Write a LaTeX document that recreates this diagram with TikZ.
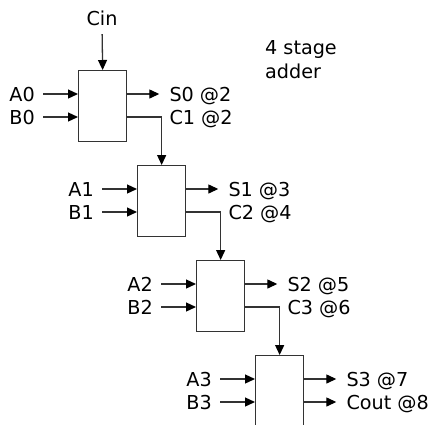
\documentclass[tikz,border=0pt]{standalone}
\usepackage{fontspec}
\setmainfont{DejaVu Sans}
\usetikzlibrary{arrows.meta,calc}

\tikzset{
    stage/.style={draw=black!80, line width=1.3pt, minimum width=48pt, minimum height=71pt, inner sep=0pt},
    wire/.style={draw=black!80, line width=1.3pt},
    sig/.style={wire, -{Triangle[length=10pt,width=9pt,color=black]}},
    lbl/.style={font=\fontsize{19.2}{24}\selectfont, text height=14pt, text depth=0pt, inner ysep=0pt},
    inlbl/.style={lbl, anchor=east, inner xsep=8pt},
    outlbl/.style={lbl, anchor=west, inner xsep=10pt}
}

\begin{document}
\begin{tikzpicture}[x=1pt, y=-1pt]
        % --- page ---
        \useasboundingbox (0,0) rectangle (429,424);

        % --- carry in and title ---
        \node[lbl, inner sep=0pt] (cin) at (102,18) {Cin};
        \node[anchor=west, align=left, font=\fontsize{19.2}{24}\selectfont, inner sep=0pt] (title) at (265,60) {4 stage\\adder};

        % --- the four stages ---
        \foreach \i/\s [evaluate=\i as \dx using 78+59*\i,
                        evaluate=\i as \dy using 70+95*\i] in {0/2,1/3,2/5,3/7}{
            \node[stage, anchor=north west] (fa\i) at (\dx,\dy) {};
            \node[inlbl] (a\i) at ($(fa\i.north west)+(-35,24)$) {A\i};
            \node[inlbl] (b\i) at ($(fa\i.north west)+(-35,47)$) {B\i};
            \node[outlbl] (s\i) at ($(fa\i.north east)+(32,24)$) {S\i\ @\s};
            \draw[sig] (a\i.east) -- (a\i.east -| fa\i.west);
            \draw[sig] (b\i.east) -- (b\i.east -| fa\i.west);
            \draw[sig] (s\i.west -| fa\i.east) -- (s\i.west);
        }

        % --- carry labels ---
        \node[outlbl] (c1) at ($(fa0.north east)+(32,47)$) {C1 @2};
        \node[outlbl] (c2) at ($(fa1.north east)+(32,47)$) {C2 @4};
        \node[outlbl] (c3) at ($(fa2.north east)+(32,47)$) {C3 @6};
        \node[outlbl] (cout) at ($(fa3.north east)+(32,47)$) {Cout @8};

        % --- carry chain ---
        \draw[sig, shorten <=9pt] (cin.south) -- (fa0.north);
        \draw[sig] (c1.west -| fa0.east) -| (fa1.north);
        \draw[sig] (c2.west -| fa1.east) -| (fa2.north);
        \draw[sig] (c3.west -| fa2.east) -| (fa3.north);
        \draw[sig] (cout.west -| fa3.east) -- (cout.west);
\end{tikzpicture}
\end{document}
